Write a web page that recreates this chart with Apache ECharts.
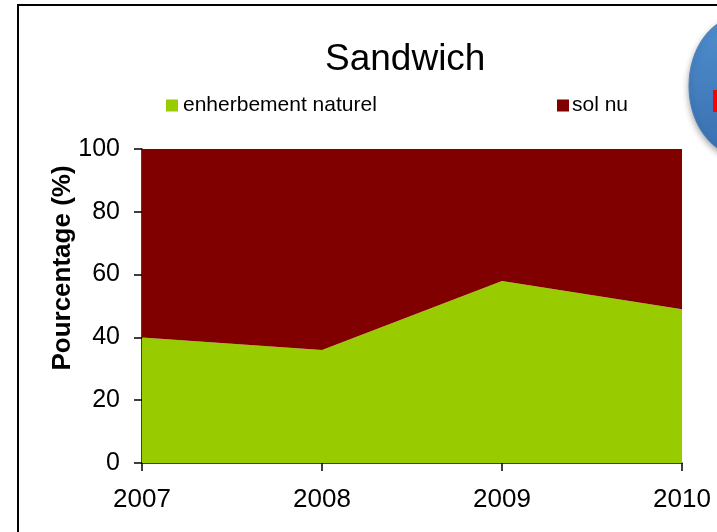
<!DOCTYPE html>
<html>
<head>
<meta charset="utf-8">
<script src="https://cdn.jsdelivr.net/npm/echarts@6/dist/echarts.min.js"></script>
<style>
html,body{margin:0;padding:0;background:#fff;}
#c{width:717px;height:532px;}
</style>
</head>
<body>
<div id="c"></div>
<script>
const years = ['2007', '2008', '2009', '2010'];
const enherbement = [40, 36, 58, 49];
const solNu = [60, 64, 42, 51];
const yTicks = [0, 20, 40, 60, 80, 100];

const FONT = '"Liberation Sans", Arial, sans-serif';
const chart = echarts.init(document.getElementById('c'));
chart.setOption({
  backgroundColor: '#fff',
  animation: false,
  title: {
    text: 'Sandwich',
    left: 320,
    top: 36,
    textStyle: { fontFamily: FONT, fontSize: 37, fontWeight: 'normal', color: '#000' }
  },
  legend: [
    {
      data: ['enherbement naturel'],
      left: 161, top: 90,
      itemWidth: 12, itemHeight: 12, icon: 'rect', itemGap: 5,
      textStyle: { fontFamily: FONT, fontSize: 21, color: '#000', padding: [0, 0, 0, 0] }
    },
    {
      data: ['sol nu'],
      left: 552, top: 90,
      itemWidth: 12, itemHeight: 12, icon: 'rect',
      textStyle: { fontFamily: FONT, fontSize: 21, color: '#000', padding: [0, 0, 0, -2] }
    }
  ],
  grid: { left: 142, right: 35, top: 149, bottom: 69 },
  xAxis: {
    type: 'category',
    data: years,
    boundaryGap: false,
    axisLine: { lineStyle: { color: '#000', width: 1.5 } },
    axisTick: { show: true, length: 8, lineStyle: { color: '#000', width: 1.5 } },
    axisLabel: { fontFamily: FONT, fontSize: 26, color: '#000', margin: 24 },
    splitLine: { show: false }
  },
  yAxis: {
    type: 'value',
    min: yTicks[0], max: yTicks[yTicks.length - 1], interval: 20,
    name: 'Pourcentage (%)',
    nameLocation: 'middle',
    nameGap: 66,
    nameMoveOverlap: false,
    nameTextStyle: { fontFamily: FONT, fontSize: 26, fontWeight: 'bold', color: '#000', padding: [0, 0, 0, 76] },
    axisLine: { show: true, lineStyle: { color: '#000', width: 1.5 } },
    axisTick: { show: true, length: 8, lineStyle: { color: '#000', width: 1.5 } },
    axisLabel: { fontFamily: FONT, fontSize: 25, color: '#000', margin: 22 },
    splitLine: { show: false }
  },
  series: [
    {
      name: 'enherbement naturel',
      type: 'line',
      stack: 'total',
      data: enherbement,
      symbol: 'none',
      lineStyle: { width: 0 },
      areaStyle: { color: '#99CC00', opacity: 1 },
      itemStyle: { color: '#99CC00' },
      z: 1
    },
    {
      name: 'sol nu',
      type: 'line',
      stack: 'total',
      data: solNu,
      symbol: 'none',
      lineStyle: { width: 0 },
      areaStyle: { color: '#800000', opacity: 1 },
      itemStyle: { color: '#800000' },
      z: 1
    }
  ],
  graphic: [
    {
      type: 'rect',
      shape: { x: 18, y: 5, width: 900, height: 800 },
      style: { fill: 'none', stroke: '#000', lineWidth: 2 },
      silent: true, z: 100
    },
    {
      type: 'ellipse',
      shape: { cx: 742, cy: 86, rx: 53, ry: 70 },
      style: {
        fill: new echarts.graphic.LinearGradient(0, 0, 0, 1, [
          { offset: 0, color: '#4f8fd0' },
          { offset: 1, color: '#3a6fae' }
        ]),
        stroke: '#4a7fbf', lineWidth: 1,
        shadowBlur: 6, shadowColor: 'rgba(0,0,0,0.35)', shadowOffsetY: 3
      },
      silent: true, z: 101
    },
    {
      type: 'rect',
      shape: { x: 713, y: 90, width: 10, height: 22 },
      style: { fill: '#ff0000' },
      silent: true, z: 102
    }
  ]
});
</script>
</body>
</html>
